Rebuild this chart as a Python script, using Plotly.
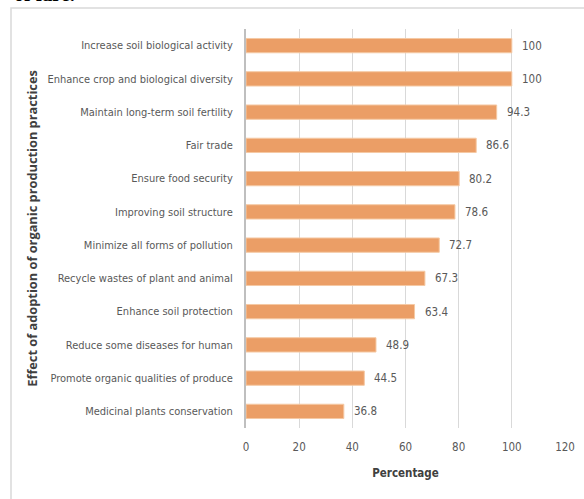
import plotly.graph_objects as go

categories = [
    "Increase soil biological activity",
    "Enhance crop and biological diversity",
    "Maintain long-term soil fertility",
    "Fair trade",
    "Ensure food security",
    "Improving soil structure",
    "Minimize all forms of pollution",
    "Recycle wastes of plant and animal",
    "Enhance soil protection",
    "Reduce some diseases for human",
    "Promote organic qualities of produce",
    "Medicinal plants conservation",
]
values = [100, 100, 94.3, 86.6, 80.2, 78.6, 72.7, 67.3, 63.4, 48.9, 44.5, 36.8]
x_ticks = [0, 20, 40, 60, 80, 100, 120]

W, H = 584, 499
L, R, T, B = 246, 19, 29, 71
pw, ph = W - L - R, H - T - B

def px(xp):
    return (xp - L) / pw

def py(yp):
    return (H - B - yp) / ph

font = "DejaVu Sans Condensed, Roboto, sans-serif"

fig = go.Figure()
fig.add_trace(go.Bar(
    y=categories, x=values, orientation="h",
    marker=dict(color="#EB9E66", line=dict(color="#F5C9A4", width=1)),
    cliponaxis=False,
))
for c, v in zip(categories, values):
    fig.add_annotation(x=v, y=c, text=f"{v:g}", xanchor="left", xshift=8,
                       showarrow=False,
                       font=dict(family=font, size=11.5, color="#595959"))
fig.update_layout(
    width=W, height=H,
    margin=dict(l=L, r=R, t=T, b=B),
    paper_bgcolor="white", plot_bgcolor="white",
    bargap=0.57,
    showlegend=False,
    xaxis=dict(range=[0, 120], tickvals=x_ticks, showgrid=True, gridcolor="#D9D9D9",
               gridwidth=1, zeroline=False, showline=False, automargin=False,
               tickfont=dict(family=font, size=11.5, color="#595959"),
               ticks="", ticklen=0, ticklabelstandoff=10,
               title=dict(text="<b>Percentage</b>", font=dict(family=font, size=11.5, color="#404040"),
                          standoff=16)),
    yaxis=dict(autorange="reversed", showline=True, linecolor="#BFBFBF", linewidth=2,
               automargin=False,
               tickfont=dict(family=font, size=11, color="#595959"),
               ticks="", ticklabelstandoff=9,
               title=dict(text="<b>Effect of adoption of organic production practices</b>",
                          font=dict(family="Open Sans, sans-serif", size=12.8, color="#404040"),
                          standoff=7)),
)
# outer frame
fig.add_shape(type="rect", xref="paper", yref="paper",
              x0=px(11), x1=px(600), y0=py(8), y1=py(520),
              line=dict(color="#D9D9D9", width=1.5), fillcolor="rgba(0,0,0,0)", layer="below")
# partial text cut at top
fig.add_annotation(text="<b>of fare.</b>", xref="paper", yref="paper",
                   x=px(12), y=py(7), xanchor="left", yanchor="bottom",
                   showarrow=False, font=dict(family="Liberation Serif, serif", size=20, color="black"))
fig.write_html("out.html")
